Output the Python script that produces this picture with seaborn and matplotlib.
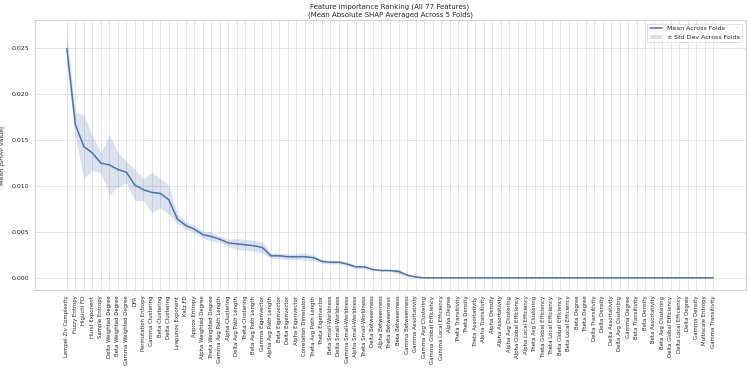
import numpy as np
import pandas as pd
import matplotlib
matplotlib.use("Agg")
import matplotlib.pyplot as plt
import seaborn as sns

features = [
    "Lempel-Ziv Complexity", "Fuzzy Entropy", "Higuchi FD", "Hurst Exponent", "Sample Entropy",
    "Delta Weighted Degree", "Beta Weighted Degree", "Gamma Weighted Degree", "DFA",
    "Permutation Entropy", "Gamma Clustering", "Beta Clustering", "Delta Clustering",
    "Lyapunov Exponent", "Katz FD", "Approx Entropy", "Alpha Weighted Degree",
    "Theta Weighted Degree", "Gamma Avg Path Length", "Alpha Clustering", "Delta Avg Path Length",
    "Theta Clustering", "Beta Avg Path Length", "Gamma Eigenvector", "Alpha Avg Path Length",
    "Beta Eigenvector", "Delta Eigenvector", "Alpha Eigenvector", "Correlation Dimension",
    "Theta Avg Path Length", "Theta Eigenvector", "Beta Small-Worldness", "Delta Small-Worldness",
    "Gamma Small-Worldness", "Alpha Small-Worldness", "Theta Small-Worldness", "Delta Betweenness",
    "Alpha Betweenness", "Theta Betweenness", "Beta Betweenness", "Gamma Betweenness",
    "Gamma Assortativity", "Gamma Avg Clustering", "Gamma Global Efficiency", "Gamma Local Efficiency",
    "Alpha Degree", "Theta Transitivity", "Theta Density", "Theta Assortativity",
    "Alpha Transitivity", "Alpha Density", "Alpha Assortativity", "Alpha Avg Clustering",
    "Alpha Global Efficiency", "Alpha Local Efficiency", "Theta Avg Clustering",
    "Theta Global Efficiency", "Theta Local Efficiency", "Beta Global Efficiency",
    "Beta Local Efficiency", "Beta Degree", "Theta Degree", "Delta Transitivity", "Delta Density",
    "Delta Assortativity", "Delta Avg Clustering", "Gamma Degree", "Beta Transitivity",
    "Beta Density", "Beta Assortativity", "Beta Avg Clustering", "Delta Global Efficiency",
    "Delta Local Efficiency", "Delta Degree", "Gamma Density", "Multiscale Entropy",
    "Gamma Transitivity",
]

mean_shap = [
    0.0250, 0.0167, 0.0143, 0.0136, 0.0125, 0.0123, 0.0118, 0.0115, 0.0101, 0.0096,
    0.0093, 0.0092, 0.0085, 0.0064, 0.0057, 0.0053, 0.0047, 0.0045, 0.0042, 0.0038,
    0.0037, 0.0036, 0.0035, 0.0033, 0.0024, 0.0024, 0.0023, 0.0023, 0.0023, 0.0022,
    0.0018, 0.0017, 0.0017, 0.0015, 0.0012, 0.0012, 0.0009, 0.0008, 0.0008, 0.0007,
    0.0003, 0.0001,
] + [0.0] * 35

std_shap = [
    0.0017, 0.0013, 0.0035, 0.0019, 0.0011, 0.0033, 0.0019, 0.0012, 0.0017, 0.0012,
    0.0022, 0.0016, 0.0016, 0.0005, 0.0004, 0.0004, 0.0004, 0.0005, 0.0003, 0.0004,
    0.0006, 0.0006, 0.0006, 0.0006, 0.0003, 0.0003, 0.0003, 0.0003, 0.0004, 0.0003,
    0.0002, 0.0002, 0.0002, 0.0002, 0.0002, 0.0002, 0.0001, 0.0001, 0.0001, 0.0003,
    0.0001, 0.0001,
] + [0.0] * 35

df = pd.DataFrame({
    "pos": np.arange(len(features)),
    "feature": features,
    "mean": mean_shap,
    "std": std_shap,
})

sns.set_theme(style="whitegrid")
plt.rcParams["font.family"] = ["DejaVu Sans"]

fig, ax = plt.subplots(figsize=(7.5, 3.71), dpi=100)
color = "#4c72b0"
sns.lineplot(data=df, x="pos", y="mean", ax=ax, color=color, linewidth=1.1,
             label="Mean Across Folds")
ax.fill_between(df["pos"], df["mean"] - df["std"], df["mean"] + df["std"],
                color=color, alpha=0.2, linewidth=0, label="\u00b1 Std Dev Across Folds")

ax.set_xticks(df["pos"])
ax.set_xticklabels(df["feature"], rotation=90, fontsize=3.9)
ax.tick_params(axis="both", length=0)
ax.tick_params(axis="y", labelsize=4.5, pad=4)
ax.tick_params(axis="x", pad=4)
ax.set_xlabel("")
ax.set_ylabel("Mean |SHAP Value|", fontsize=4.5)
ax.yaxis.set_label_coords(-0.041, 0.5)
ax.set_title("Feature Importance Ranking (All 77 Features)\n(Mean Absolute SHAP Averaged Across 5 Folds)",
             fontsize=5.0, pad=3)
ax.grid(True, color="#e0e0e0", linewidth=0.6)
for s in ax.spines.values():
    s.set_color("#cccccc")
    s.set_linewidth(0.6)
leg = ax.legend(loc="upper right", fontsize=4.5, frameon=True)
leg.get_frame().set_linewidth(0.5)

fig.subplots_adjust(left=0.046, right=0.994, top=0.945, bottom=0.218)
fig.savefig("out.png", dpi=100)
